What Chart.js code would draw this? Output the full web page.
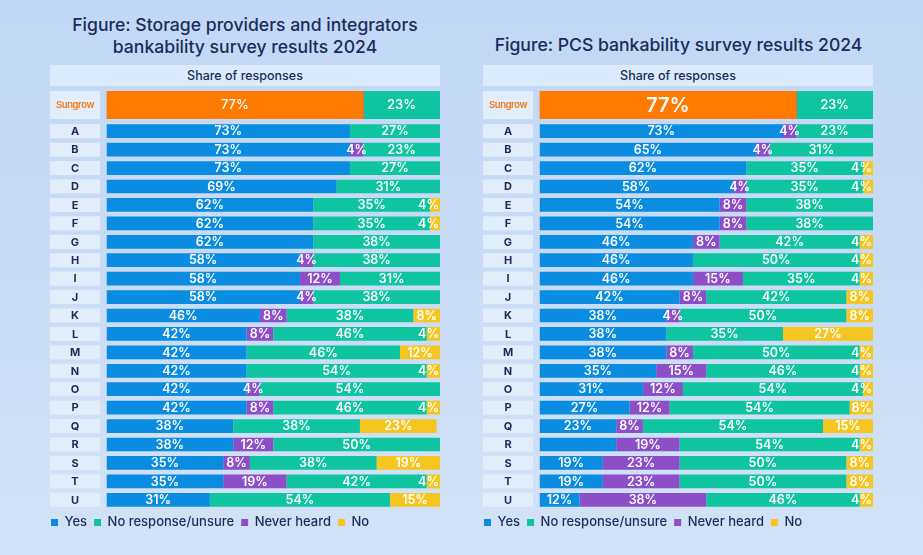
<!DOCTYPE html>
<html>
<head>
<meta charset="utf-8">
<script src="https://cdn.jsdelivr.net/npm/chart.js@4.4.0/dist/chart.umd.min.js"></script>
<style>
html,body{margin:0;padding:0;}
body{width:923px;height:555px;position:relative;overflow:hidden;font-family:Inter,'Open Sans',sans-serif;
  background:linear-gradient(180deg,#c2d8f6 0%,#c8dbf6 45%,#d3e2f6 100%);}
.title{position:absolute;color:#1b2c5c;font-size:17.6px;font-weight:500;text-align:center;line-height:21.5px;white-space:nowrap;}
.hdr{position:absolute;top:65px;height:21px;line-height:21px;background:#dcebfb;color:#1b2c5c;font-size:12.5px;font-weight:500;text-align:center;}
.box{position:absolute;}
canvas{display:block;}
</style>
</head>
<body>
<div class="title" style="left:40px;width:410px;top:14px;">Figure: Storage providers and integrators<br>bankability survey results 2024</div>
<div class="title" style="left:470px;width:417px;top:34px;">Figure: PCS bankability survey results 2024</div>
<div class="hdr" style="left:50px;width:390px;">Share of responses</div>
<div class="hdr" style="left:483px;width:390px;">Share of responses</div>
<div class="box" style="left:44px;top:91px;width:396px;height:28px;"><canvas id="sTop" width="396" height="28"></canvas></div>
<div class="box" style="left:44px;top:121.5px;width:396px;height:417px;"><canvas id="sMain" width="396" height="417"></canvas></div>
<div class="box" style="left:477px;top:91px;width:396px;height:28px;"><canvas id="pTop" width="396" height="28"></canvas></div>
<div class="box" style="left:477px;top:121.5px;width:396px;height:417px;"><canvas id="pMain" width="396" height="417"></canvas></div>
<script>
// ---------- data ----------
const seriesNames = ['Yes', 'Never heard', 'No response/unsure', 'No'];
const legendOrder = ['Yes', 'No response/unsure', 'Never heard', 'No'];
const topLabel = ['Sungrow'];
const rowLabels = ['A','B','C','D','E','F','G','H','I','J','K','L','M','N','O','P','Q','R','S','T','U'];

// Storage providers and integrators
const storageTopYes = [77];
const storageTopNever = [0];
const storageTopUnsure = [23];
const storageTopNo = [0];
const storageYes    = [73,73,73,69,62,62,62,58,58,58,46,42,42,42,42,42,38,38,35,35,31];
const storageNever  = [0,4,0,0,0,0,0,4,12,4,8,8,0,0,4,8,0,12,8,19,0];
const storageUnsure = [27,23,27,31,35,35,38,38,31,38,38,46,46,54,54,46,38,50,38,42,54];
const storageNo     = [0,0,0,0,4,4,0,0,0,0,8,4,12,4,0,4,23,0,19,4,15];

// PCS
const pcsTopYes = [77];
const pcsTopNever = [0];
const pcsTopUnsure = [23];
const pcsTopNo = [0];
const pcsYes    = [73,65,62,58,54,54,46,46,46,42,38,38,38,35,31,27,23,23,19,19,12];
const pcsNever  = [4,4,0,4,8,8,8,0,15,8,4,0,8,15,12,12,8,19,23,23,38];
const pcsUnsure = [23,31,35,35,38,38,42,50,35,42,50,35,50,46,54,54,54,54,50,50,46];
const pcsNo     = [0,0,4,4,0,0,4,4,4,8,8,27,4,4,4,8,15,4,8,8,4];
const pcsUnlabelled = [['Yes','R']];

// ---------- styles ----------
const COL = {Yes:'#0a8de0', 'Never heard':'#8c4fc8', 'No response/unsure':'#0fc5a0', No:'#f5c520'};
const ORANGE = '#ff7a00';
const NAVY = '#1b2c5c';
const FONT = "Inter, 'Open Sans', sans-serif";
const AXIS_W = 62.5;

const rowDecor = {
  id: 'rowDecor',
  beforeDatasetsDraw(chart, args, opts) {
    const ctx = chart.ctx, y = chart.scales.y, left = chart.chartArea.left;
    ctx.save();
    chart.data.labels.forEach((lab, i) => {
      const py = y.getPixelForTick(i);
      const h = opts.boxH;
      ctx.fillStyle = '#e2edfa';
      ctx.fillRect(left - 56.5, py - h / 2, 50, h);
      ctx.fillStyle = opts.color;
      ctx.font = opts.font;
      if (opts.spacing) ctx.letterSpacing = opts.spacing;
      ctx.textAlign = 'center';
      ctx.textBaseline = 'middle';
      ctx.fillText(lab, left - 31.5, py + 0.5);
    });
    ctx.restore();
  }
};

const barText = {
  id: 'barText',
  afterDatasetsDraw(chart, args, opts) {
    const ctx = chart.ctx, area = chart.chartArea;
    ctx.save();
    ctx.textAlign = 'center';
    ctx.textBaseline = 'middle';
    ctx.fillStyle = '#ffffff';
    chart.data.datasets.forEach((ds, di) => {
      const meta = chart.getDatasetMeta(di);
      meta.data.forEach((bar, j) => {
        const v = ds.data[j];
        if (!v) return;
        const cat = chart.data.labels[j];
        if ((opts.skip || []).some(s => s[0] === ds.label && s[1] === cat)) return;
        const p = bar.getProps(['x', 'base', 'y'], true);
        ctx.font = (opts.fonts && opts.fonts[ds.label]) || opts.font;
        const txt = v + '%';
        const w = ctx.measureText(txt).width;
        let cx = (p.x + p.base) / 2;
        cx = Math.min(cx, area.right - w / 2 - 1);
        ctx.fillText(txt, cx, p.y + 0.5);
      });
    });
    ctx.restore();
  }
};

function makeChart(id, labels, vals, isTop, skip, bigYes) {
  const datasets = seriesNames.map((name, k) => ({
    label: name,
    data: vals[k],
    backgroundColor: (isTop && name === 'Yes') ? ORANGE : COL[name],
    borderWidth: 0,
    barPercentage: isTop ? 1 : 0.745,
    categoryPercentage: 1
  }));
  return new Chart(document.getElementById(id), {
    type: 'bar',
    data: {labels, datasets},
    plugins: [rowDecor, barText],
    options: {
      indexAxis: 'y',
      responsive: false,
      animation: false,
      devicePixelRatio: 1,
      layout: {padding: 0},
      scales: {
        x: {type: 'linear', min: 0, max: 100, stacked: true, display: false},
        y: {stacked: true, grid: {display: false}, border: {display: false},
            ticks: {display: false},
            afterFit(s) { s.width = AXIS_W; }}
      },
      plugins: {
        tooltip: {enabled: false},
        legend: isTop ? {display: false} : {
          display: true, position: 'bottom', align: 'start',
          labels: {
            boxWidth: 7, boxHeight: 7, padding: 7, color: NAVY,
            font: {family: FONT, size: 13, weight: '500'},
            sort: (a, b) => legendOrder.indexOf(a.text) - legendOrder.indexOf(b.text)
          }
        },
        rowDecor: isTop
          ? {boxH: 29, color: '#f07a14', font: "600 9.5px " + FONT, spacing: '-0.4px'}
          : {boxH: 14, color: NAVY, font: "700 11px " + FONT},
        barText: {
          font: "600 12.5px " + FONT,
          fonts: bigYes ? {Yes: "600 20px " + FONT} : (isTop ? {Yes: "500 13px " + FONT, 'No response/unsure': "500 13px " + FONT} : null),
          skip: skip
        }
      }
    }
  });
}

makeChart('sTop', topLabel, [storageTopYes, storageTopNever, storageTopUnsure, storageTopNo], true, [], false);
makeChart('sMain', rowLabels, [storageYes, storageNever, storageUnsure, storageNo], false, [], false);
makeChart('pTop', topLabel, [pcsTopYes, pcsTopNever, pcsTopUnsure, pcsTopNo], true, [], true);
makeChart('pMain', rowLabels, [pcsYes, pcsNever, pcsUnsure, pcsNo], false, pcsUnlabelled, false);
</script>
</body>
</html>
